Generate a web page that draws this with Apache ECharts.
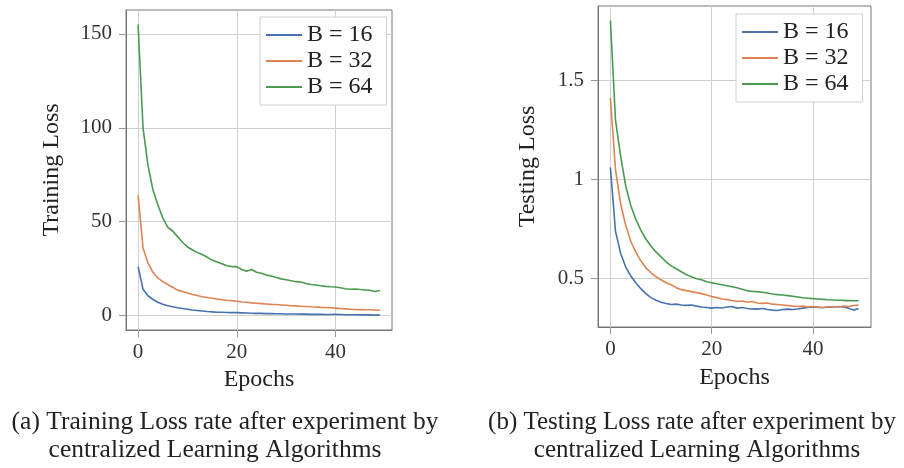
<!DOCTYPE html>
<html>
<head>
<meta charset="utf-8">
<script src="https://cdn.jsdelivr.net/npm/echarts@6/dist/echarts.min.js"></script>
<style>
  html, body { margin: 0; padding: 0; background: #fff; }
  #chart { width: 904px; height: 468px; }
</style>
</head>
<body>
<div id="chart"></div>
<script>
// epochs 0..49
const epochs = Array.from({length: 50}, (_, i) => i);
const seriesNames = ['B = 16', 'B = 32', 'B = 64'];

// training loss (left)
const trainB16 = [26, 14, 10.5, 8.5, 7, 6, 5.2, 4.6, 4.1, 3.7, 3.3, 2.9, 2.6, 2.4, 2.1, 1.9, 1.7, 1.7, 1.6, 1.5,
  1.5, 1.4, 1.3, 1.2, 1.1, 1.1, 1.0, 1.0, 0.9, 0.9, 0.8, 0.8, 0.8, 0.7, 0.7, 0.6, 0.6, 0.6, 0.5, 0.5,
  0.6, 0.5, 0.4, 0.4, 0.4, 0.3, 0.3, 0.3, 0.2, 0.2];
const trainB32 = [64, 36, 28, 23, 20, 18, 16.5, 15, 13.5, 12.8, 12, 11.2, 10.6, 10, 9.6, 9.2, 8.8, 8.4, 8.1, 7.9,
  7.6, 7.2, 7, 6.7, 6.5, 6.3, 6.1, 5.9, 5.8, 5.6, 5.4, 5.2, 5.1, 4.9, 4.8, 4.6, 4.5, 4.3, 4.2, 4.1,
  3.9, 3.7, 3.5, 3.3, 3.2, 3.1, 3.0, 3.0, 2.9, 2.8];
const trainB64 = [155, 100, 80, 67, 59, 52, 47, 45, 42, 39, 36.5, 35, 33.5, 32.5, 31, 29.5, 28.5, 27.5, 26.5, 26,
  26, 24.5, 23.5, 24.5, 23, 22.5, 21.5, 21, 20.2, 19.5, 19, 18.5, 18, 17.8, 17, 16.5, 16.2, 15.8, 15.5, 15.3,
  15.2, 14.8, 14.2, 14, 14.1, 13.8, 13.6, 13.4, 12.8, 13.3];

// testing loss (right)
const testB16 = [1.06, 0.74, 0.63, 0.56, 0.515, 0.48, 0.45, 0.425, 0.405, 0.392, 0.382, 0.375, 0.37, 0.372, 0.368, 0.366, 0.368, 0.362, 0.358, 0.355,
  0.352, 0.355, 0.353, 0.358, 0.36, 0.352, 0.355, 0.35, 0.348, 0.347, 0.35, 0.345, 0.342, 0.34, 0.345, 0.347, 0.345, 0.348, 0.352, 0.355,
  0.358, 0.356, 0.355, 0.357, 0.358, 0.36, 0.358, 0.352, 0.342, 0.35];
const testB32 = [1.41, 1.05, 0.88, 0.77, 0.69, 0.635, 0.59, 0.555, 0.53, 0.51, 0.495, 0.48, 0.47, 0.455, 0.445, 0.44, 0.435, 0.43, 0.425, 0.418,
  0.41, 0.405, 0.398, 0.395, 0.39, 0.385, 0.388, 0.382, 0.385, 0.378, 0.376, 0.378, 0.372, 0.37, 0.368, 0.365, 0.362, 0.36, 0.362, 0.358,
  0.36, 0.357, 0.355, 0.358, 0.36, 0.358, 0.362, 0.36, 0.365, 0.367];
const testB64 = [1.80, 1.30, 1.12, 0.97, 0.87, 0.80, 0.745, 0.70, 0.665, 0.635, 0.61, 0.585, 0.565, 0.55, 0.535, 0.52, 0.51, 0.50, 0.495, 0.485,
  0.48, 0.475, 0.47, 0.465, 0.46, 0.455, 0.447, 0.44, 0.436, 0.435, 0.432, 0.428, 0.423, 0.42, 0.418, 0.415, 0.412, 0.408, 0.404, 0.402,
  0.40, 0.398, 0.396, 0.394, 0.393, 0.392, 0.391, 0.390, 0.389, 0.389];

const xTicks = [0, 20, 40];
const trainTicks = [0, 50, 100, 150];
const testTicks = [0.5, 1, 1.5];

const colors = ['#4672ad', '#dd8452', '#4a9a50'];
const font = 'Liberation Serif';

const pair = arr => arr.map((v, i) => [epochs[i], v]);

function xAxis(gridIndex, gap) {
    return {
        type: 'value', gridIndex, min: -2.45, max: 51.45,
        name: 'Epochs', nameLocation: 'middle', nameGap: gap,
        nameTextStyle: {fontFamily: font, fontSize: 24, color: '#222'},
        axisLine: {show: true, onZero: false, lineStyle: {color: '#777'}},
        axisTick: {show: true, length: 7, customValues: xTicks, lineStyle: {color: '#999'}},
        axisLabel: {customValues: xTicks, margin: 12, fontFamily: font, fontSize: 21, color: '#333'},
        splitLine: {show: true, lineStyle: {color: '#cfcfcf', width: 1}},
    };
}

function yAxis(gridIndex, min, max, ticks, name, gap) {
    return {
        type: 'value', gridIndex, min, max,
        name, nameLocation: 'middle', nameGap: gap,
        nameTextStyle: {fontFamily: font, fontSize: 24, color: '#222'},
        axisLine: {show: true, onZero: false, lineStyle: {color: '#777'}},
        axisTick: {show: true, length: 7, customValues: ticks, lineStyle: {color: '#999'}},
        axisLabel: {customValues: ticks, margin: 14, fontFamily: font, fontSize: 21, color: '#333'},
        splitLine: {show: true, lineStyle: {color: '#cfcfcf', width: 1}},
    };
}

function legend(left, top) {
    return {
        left, top, orient: 'vertical',
        data: seriesNames,
        icon: 'rect', itemWidth: 36, itemHeight: 2, itemGap: 2,
        backgroundColor: '#fff', borderColor: '#d0d0d0', borderWidth: 1,
        padding: [6, 14, 6, 6],
        textStyle: {fontFamily: font, fontSize: 24, color: '#222', lineHeight: 24},
        selectedMode: false,
    };
}

function line(name, data, idx, axis) {
    return {
        name, type: 'line', xAxisIndex: axis, yAxisIndex: axis,
        data: pair(data), showSymbol: false, symbol: 'none',
        lineStyle: {width: 1.6, color: colors[idx]}, itemStyle: {color: colors[idx]},
        z: 5,
    };
}

const chart = echarts.init(document.getElementById('chart'));
chart.setOption({
    animation: false,
    backgroundColor: '#fff',
    grid: [
        {left: 126, top: 10, width: 266, height: 320, show: true, borderColor: '#777', borderWidth: 1},
        {left: 598, top: 6, width: 273, height: 321, show: true, borderColor: '#777', borderWidth: 1},
    ],
    xAxis: [xAxis(0, 36), xAxis(1, 39)],
    yAxis: [
        yAxis(0, -7.75, 162.75, trainTicks, 'Training Loss', 62),
        yAxis(1, 0.257, 1.873, testTicks, 'Testing Loss', 58),
    ],
    legend: [legend(260, 17), legend(736, 14)],
    series: [
        line(seriesNames[0], trainB16, 0, 0),
        line(seriesNames[1], trainB32, 1, 0),
        line(seriesNames[2], trainB64, 2, 0),
        line(seriesNames[0], testB16, 0, 1),
        line(seriesNames[1], testB32, 1, 1),
        line(seriesNames[2], testB64, 2, 1),
    ],
    graphic: [
        {type: 'text', x: 225, y: 422, style: {text: '(a) Training Loss rate after experiment by', fontFamily: font, fontSize: 25.5, fill: '#222', align: 'center', verticalAlign: 'middle'}},
        {type: 'text', x: 215, y: 450, style: {text: 'centralized Learning Algorithms', fontFamily: font, fontSize: 25.5, fill: '#222', align: 'center', verticalAlign: 'middle'}},
        {type: 'text', x: 692, y: 422, style: {text: '(b) Testing Loss rate after experiment by', fontFamily: font, fontSize: 25, fill: '#222', align: 'center', verticalAlign: 'middle'}},
        {type: 'text', x: 697, y: 450, style: {text: 'centralized Learning Algorithms', fontFamily: font, fontSize: 25, fill: '#222', align: 'center', verticalAlign: 'middle'}},
    ],
});
</script>
</body>
</html>
